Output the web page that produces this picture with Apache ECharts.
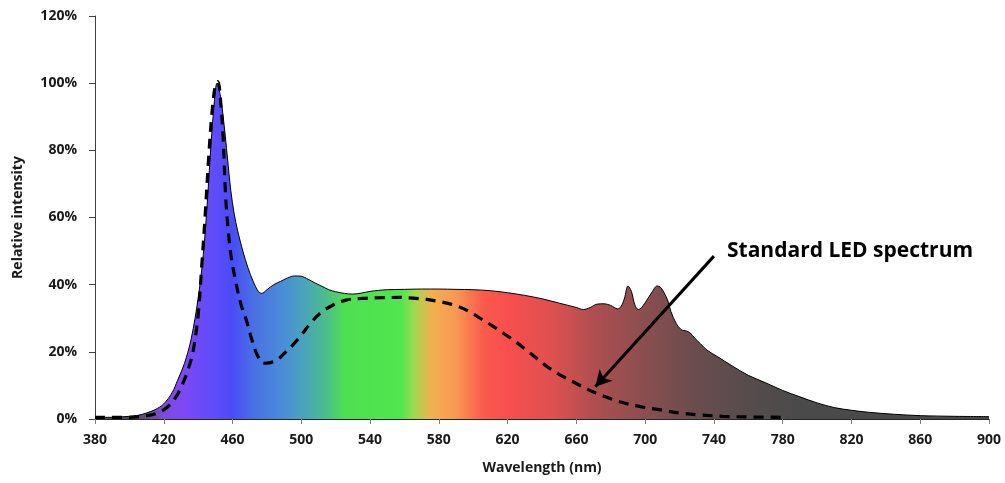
<!DOCTYPE html>
<html>
<head>
<meta charset="utf-8">
<script src="https://cdn.jsdelivr.net/npm/echarts@6/dist/echarts.min.js"></script>
<style>html,body{margin:0;padding:0;background:#fff}#c{width:1005px;height:483px}</style>
</head>
<body>
<div id="c"></div>
<script>
// Full-spectrum LED (filled, gradient)
const specNm = [380,390,400,405,410,415,420,425,428,432,436,440,443,445,447,449,451,453,455,457,459,461,463,466,469,472,475,477,480,484,488,492,496,500,504,508,512,516,520,525,530,535,540,545,550,560,570,580,590,600,610,620,630,640,650,660,664,668,672,676,680,684,686,688,690,692,694,696,698,701,704,707,709,711,713,715,718,721,724,726,729,732,736,742,750,760,770,780,790,800,810,820,830,845,860,880,900];
const specVal = [0.5,0.5,0.8,1.1,1.8,2.8,4.5,8,11.5,16.5,24,36,49,62,78,92,100,96,88,78,68,61,56,50,45,41,38,37.4,38.5,40,41,42,42.6,42.5,41.6,40.5,39.5,38.5,37.9,37.4,37.2,37.5,38,38.3,38.5,38.6,38.7,38.7,38.6,38.5,38.2,37.6,36.8,35.8,34.5,33.2,32.6,33.2,34.2,34.3,33.8,32.8,33.5,36,39.6,38,34,32.6,33.2,35.4,37.8,39.6,39.2,37.6,35.5,32,28.5,26.6,26.2,25.7,24,22.5,20.5,18.6,16,13,10.8,8.5,6.6,4.8,3.4,2.6,2,1.4,1.0,0.8,0.7];

// Standard LED spectrum (dashed)
const stdNm = [380,390,400,410,416,422,427,431,434,437,440,442,444,446,448,450,451.5,453,454.5,456,457.5,459,462,465,468,471,474,478,482,486,490,495,500,505,511,518,526,535,546,557,565,573,581,589,597,604,611,618,625,631,637,643,650,658,665,672,680,689,698,709,720,732,745,760,783];
const stdVal = [0.5,0.5,0.5,1.0,1.7,3.5,6.5,10.5,14.5,20,31,45,60,77,91,99.5,100.5,95,84,66,56,49,40.5,34,29.5,24,19.5,16.6,16.8,17.6,19.5,22,25,28.3,31.5,33.8,35.4,35.9,36.1,36.2,36,35.6,34.9,33.9,32.2,30,27.8,25.4,22.9,20.5,18,15.6,13.3,11.1,9.2,7.6,6,4.6,3.6,2.7,1.8,1.2,0.8,0.6,0.5];

// Axis ticks
const xMin = 380, xMax = 900, xStep = 40;
const yMin = 0, yMax = 120, yStep = 20;

// Annotation
const annoText = 'Standard LED spectrum';
const arrowFrom = [740, 48.5];
const arrowTo = [671, 9.6];

// Spectrum colour stops (wavelength nm, colour)
const stopNm =  [380, 405, 420, 430, 450, 460, 472, 490, 502, 515, 525, 558, 566, 576, 590, 606, 620, 645, 670, 700, 730, 760, 790, 900];
const stopCol = ['#4a4a4a','#5a4a6a','#7a4cd8','#8048f4','#5e4cfa','#4a4cf6','#4a70e4','#4a8ed6','#4aa4b8','#4cbe8a','#4edf52','#50e64e','#a4d650','#f2b050','#f89852','#fa5a4c','#f84e4e','#e05050','#b04e50','#8a4e50','#6a4c4e','#564c4c','#4a4a4a','#4a4a4a'];

const pair = (xs, ys) => xs.map((x, i) => [x, ys[i]]);
const gradStops = stopNm.map((nm, i) => ({offset: (nm - xMin) / (xMax - xMin), color: stopCol[i]}));

const FONT = '"Open Sans", "DejaVu Sans", sans-serif';
const chart = echarts.init(document.getElementById('c'), null, {renderer: 'canvas'});
chart.setOption({
  animation: false,
  grid: {left: 95, right: 16, top: 16, bottom: 64},
  xAxis: {
    type: 'value', min: xMin, max: xMax, interval: xStep,
    name: 'Wavelength (nm)', nameLocation: 'middle', nameGap: 42,
    nameTextStyle: {fontFamily: FONT, fontWeight: 'bold', fontSize: 14, color: '#1a1a1a'},
    axisLine: {show: true, onZero: false, lineStyle: {color: '#262626', width: 1}},
    axisTick: {show: true, length: 5, lineStyle: {color: '#7f7f7f'}},
    axisLabel: {fontFamily: FONT, fontWeight: 'bold', fontSize: 14, color: '#1a1a1a', margin: 14},
    splitLine: {show: false}
  },
  yAxis: {
    type: 'value', min: yMin, max: yMax, interval: yStep,
    name: 'Relative intensity', nameLocation: 'middle', nameGap: 70, nameRotate: 90,
    nameTextStyle: {fontFamily: FONT, fontWeight: 'bold', fontSize: 14, color: '#1a1a1a'},
    axisLine: {show: true, lineStyle: {color: '#404040', width: 1}},
    axisTick: {show: true, length: 6, lineStyle: {color: '#404040'}},
    axisLabel: {fontFamily: FONT, fontWeight: 'bold', fontSize: 14, color: '#1a1a1a', margin: 18, formatter: '{value}%'},
    splitLine: {show: false}
  },
  series: [
    {
      type: 'line', name: 'Spectrum', data: pair(specNm, specVal),
      smooth: 0.35, showSymbol: false, symbol: 'none',
      lineStyle: {color: '#000', width: 1},
      areaStyle: {opacity: 1, color: new echarts.graphic.LinearGradient(0, 0, 1, 0, gradStops)},
      z: 2
    },
    {
      type: 'line', name: annoText, data: pair(stdNm, stdVal),
      smooth: 0.35, showSymbol: false, symbol: 'none',
      lineStyle: {color: '#000', width: 3.2, type: [10, 7]},
      z: 3,
      markLine: {
        silent: true, symbol: ['none', 'arrow'], symbolSize: [13, 16],
        label: {show: false},
        lineStyle: {color: '#000', width: 3, type: 'solid'},
        data: [[{coord: arrowFrom}, {coord: arrowTo}]]
      }
    }
  ],
  graphic: [{
    type: 'text', left: 727, top: 241,
    style: {text: annoText, font: 'bold 21px ' + FONT, fill: '#000'}
  }]
});
</script>
</body>
</html>
